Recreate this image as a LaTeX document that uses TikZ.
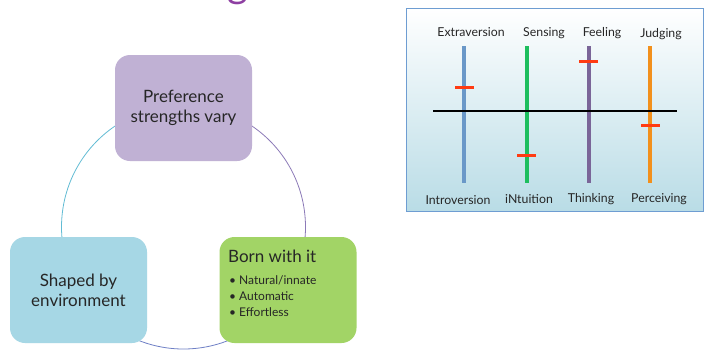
\documentclass[tikz,border=0pt]{standalone}
\usepackage{fontspec}
\setmainfont{Lato}
\definecolor{boxpurple}{HTML}{C0B1D4}
\definecolor{boxblue}{HTML}{A6D7E5}
\definecolor{boxgreen}{HTML}{A2D466}
\definecolor{arcleft}{HTML}{62BCD4}
\definecolor{arcright}{HTML}{8C7AB8}
\definecolor{arcbottom}{HTML}{6F80C6}
\definecolor{txt}{HTML}{262626}
\definecolor{panelborder}{HTML}{6E9DD2}
\definecolor{panelbottom}{HTML}{B9DCE6}
\definecolor{barblue}{HTML}{6A98C8}
\definecolor{bargreen}{HTML}{1DBE5E}
\definecolor{barpurple}{HTML}{7A6598}
\definecolor{barorange}{HTML}{F2901C}
\definecolor{tickred}{HTML}{FF3B12}
\definecolor{titlepurple}{HTML}{8E3FA2}
\tikzset{
  cyclebox/.style={rounded corners=15pt, minimum width=137pt, minimum height=106pt, inner sep=0pt, text=txt, align=center, font=\fontsize{17}{20}\selectfont},
  bar/.style={line width=4pt},
  tick/.style={line width=3pt, tickred},
  lbl/.style={font=\fontsize{12.3}{14}\selectfont, text=txt, inner sep=0pt}
}
\begin{document}
\begin{tikzpicture}[x=1pt,y=-1pt]
\useasboundingbox (0,0) rectangle (708,351);
\fill[white] (0,0) rectangle (708,351);
\begin{scope}
\clip (0,0) rectangle (708,351);
\node[anchor=base, text=titlepurple, font=\fontsize{40}{46}\selectfont, inner sep=0pt] (title) at (238,-3) {g};
\end{scope}
% cycle arcs
\coordinate (cc) at (183.5,227);
\draw[arcleft, line width=0.8pt] (cc) ++(150:122) arc[start angle=150, end angle=250, radius=122];
\draw[arcright, line width=0.8pt] (cc) ++(290:122) arc[start angle=290, end angle=390, radius=122];
\draw[arcbottom, line width=0.8pt] (cc) ++(40:122) arc[start angle=40, end angle=140, radius=122];
% boxes
\node[cyclebox, fill=boxpurple] (pref) at (183.5,108) {Preference\\strengths vary};
\node[cyclebox, fill=boxblue] (shaped) at (78.5,290) {Shaped by\\environment};
\node[cyclebox, fill=boxgreen] (born) at (288,290) {};
\node[anchor=base west, text=txt, font=\fontsize{17}{20}\selectfont, inner sep=0pt] (bornt) at (228,262) {Born with it};
\node[anchor=north west, text=txt, font=\fontsize{12}{16}\selectfont, inner sep=0pt, align=left] (bl) at (229,275)
  {\textbullet\ Natural/innate\\\textbullet\ Automatic\\\textbullet\ Effortless};
% right panel
\shade[top color=white, bottom color=panelbottom] (406,8) rectangle (703,211);
\draw[panelborder, line width=1pt] (406,8) rectangle (703,211);
\coordinate (hl) at (433,111);
\coordinate (hr) at (677,111);
\draw[bar, barblue] (464,46) -- (464,183);
\draw[bar, bargreen] (527,46) -- (527,183);
\draw[bar, barpurple] (589,46) -- (589,183);
\draw[bar, barorange] (650,46) -- (650,183);
\draw[line width=2.5pt, black] (hl) -- (hr);
\draw[tick] (455,87) -- (474,87);
\draw[tick] (517,155) -- (536,155);
\draw[tick] (579,61) -- (598,61);
\draw[tick] (641,125) -- (660,125);
\node[lbl] (ext) at (471,32) {Extraversion};
\node[lbl] (sen) at (544,33) {Sensing};
\node[lbl] (fee) at (602,33) {Feeling};
\node[lbl] (jud) at (661,34) {Judging};
\node[lbl] (intr) at (458,200) {Introversion};
\node[lbl] (intu) at (529,199) {iNtuition};
\node[lbl] (thi) at (591,199) {Thinking};
\node[lbl] (per) at (659,199) {Perceiving};
\end{tikzpicture}
\end{document}
